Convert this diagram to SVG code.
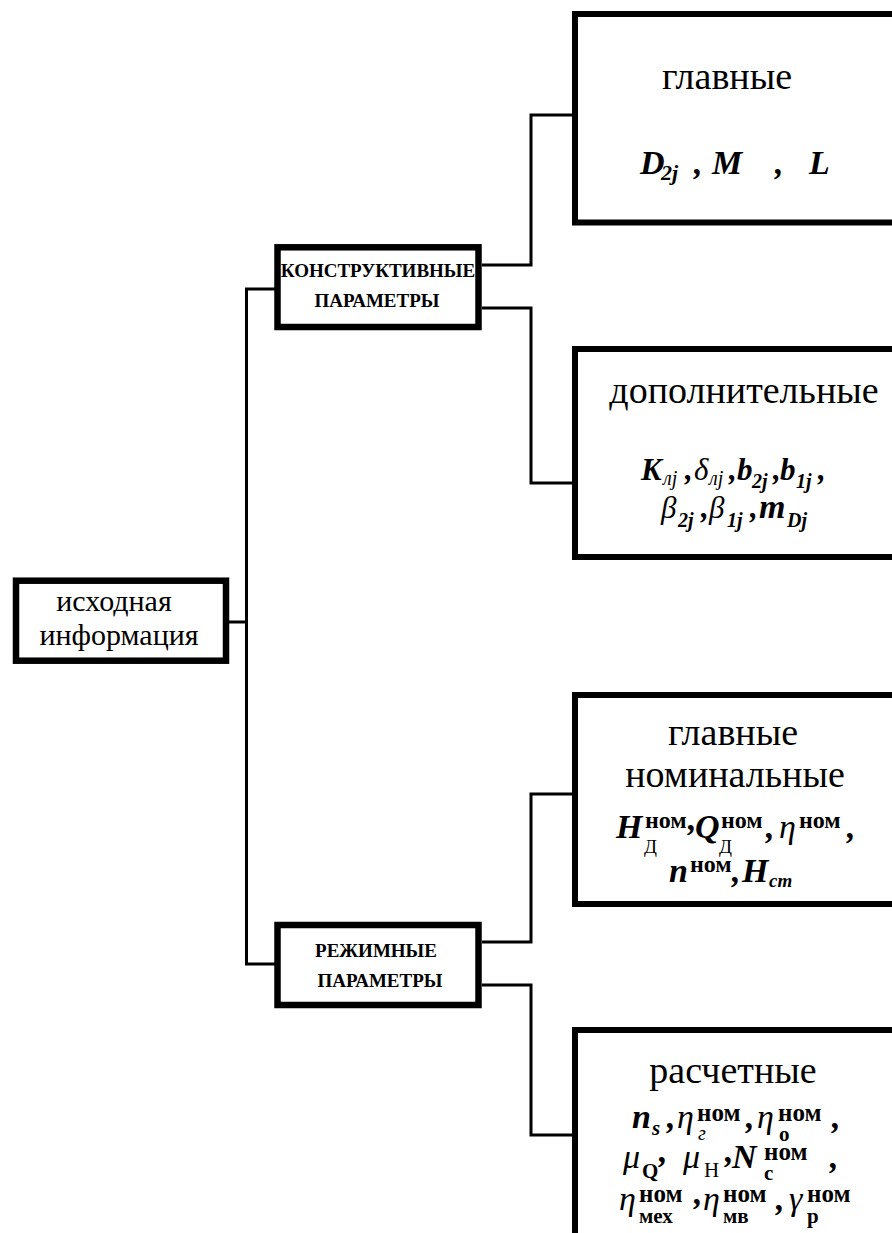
<svg xmlns="http://www.w3.org/2000/svg" width="892" height="1233" viewBox="0 0 892 1233">
<style>
.box{fill:#fff;stroke:#000;stroke-width:6}
.sbox{fill:#fff;stroke:#000;stroke-width:6.5}
.conn{fill:none;stroke:#000;stroke-width:3}
text{font-family:"Liberation Serif","Times New Roman",serif;fill:#000}
.lbl{font-size:38px;text-anchor:middle}
.src{font-size:30px;text-anchor:middle}
.cap{font-size:19px;font-weight:bold;text-anchor:middle}
.bi{font-weight:bold;font-style:italic}
.i{font-style:italic}
.b{font-weight:bold}
</style>
<rect width="892" height="1233" fill="#fff"/>
<g id="connectors">
<path class="conn" d="M229 622 H246.5"/>
<path class="conn" d="M275 289 H246.5 V964 H275"/>
<path class="conn" d="M482 265 H531 V115 H573"/>
<path class="conn" d="M482 308 H531 V483 H573"/>
<path class="conn" d="M482 942 H531 V794 H573"/>
<path class="conn" d="M482 985 H531 V1135 H573"/>
</g>
<g id="node-source">
<rect class="sbox" x="16" y="580.7" width="210" height="80"/>
<text class="src" x="114" y="611">исходная</text>
<text class="src" x="119" y="645">информация</text>
</g>
<g id="node-constructive">
<rect class="sbox" x="277.5" y="247.3" width="201" height="79.7"/>
<text class="cap" x="378" y="277">КОНСТРУКТИВНЫЕ</text>
<text class="cap" x="377" y="307">ПАРАМЕТРЫ</text>
</g>
<g id="node-mode">
<rect class="sbox" x="277.5" y="925" width="201" height="80"/>
<text class="cap" x="376" y="957">РЕЖИМНЫЕ</text>
<text class="cap" x="380" y="987">ПАРАМЕТРЫ</text>
</g>
<g id="node-main">
<rect class="box" x="575" y="14" width="340" height="208.5"/>
<text class="lbl" x="727" y="89">главные</text>
<text font-size="34">
<tspan class="bi" x="640" y="174">D</tspan><tspan class="bi" font-size="22" x="661" y="180">2j</tspan>
<tspan class="bi" x="694" y="174">,</tspan>
<tspan class="bi" x="712" y="174">M</tspan>
<tspan class="bi" x="775" y="174">,</tspan>
<tspan class="bi" x="809" y="174">L</tspan>
</text>
</g>
<g id="node-additional">
<rect class="box" x="575" y="349" width="340" height="208"/>
<text class="lbl" x="744" y="403">дополнительные</text>
<text font-size="31">
<tspan class="bi" x="641" y="480">K</tspan><tspan class="i" font-size="20" x="663" y="485">лj</tspan>
<tspan class="bi" x="685" y="480">,</tspan>
<tspan class="i" x="694" y="480">δ</tspan><tspan class="i" font-size="20" x="709" y="485">лj</tspan>
<tspan class="bi" x="729" y="480">,</tspan>
<tspan class="bi" x="737" y="480">b</tspan><tspan class="bi" font-size="20" x="752" y="488">2j</tspan>
<tspan class="bi" x="773" y="480">,</tspan>
<tspan class="bi" x="780" y="480">b</tspan><tspan class="bi" font-size="20" x="796" y="488">1j</tspan>
<tspan class="bi" x="818" y="480">,</tspan>
<tspan class="i" x="661" y="518">β</tspan><tspan class="bi" font-size="20" x="678" y="527">2j</tspan>
<tspan class="bi" x="701" y="518">,</tspan>
<tspan class="i" x="709" y="518">β</tspan><tspan class="bi" font-size="20" x="727" y="527">1j</tspan>
<tspan class="bi" x="750" y="518">,</tspan>
<tspan class="bi" x="759" y="518" font-size="34">m</tspan><tspan class="bi" font-size="20" x="787" y="527">Dj</tspan>
</text>
</g>
<g id="node-nominal">
<rect class="box" x="575" y="695" width="340" height="209"/>
<text class="lbl" x="733" y="745">главные</text>
<text class="lbl" x="735" y="787">номинальные</text>
<text font-size="34">
<tspan class="bi" x="616" y="838">H</tspan><tspan class="b" font-size="24" x="645" y="828">ном</tspan><tspan font-size="19" x="644" y="853">Д</tspan>
<tspan class="bi" x="688" y="830">,</tspan>
<tspan class="bi" x="695" y="838">Q</tspan><tspan class="b" font-size="24" x="721" y="828">ном</tspan><tspan font-size="19" x="719" y="853">Д</tspan>
<tspan class="bi" x="766" y="838">,</tspan>
<tspan class="i" x="779" y="838">η</tspan><tspan class="b" font-size="24" x="799" y="828">ном</tspan>
<tspan class="bi" x="847" y="838">,</tspan>
<tspan class="bi" x="669" y="882">n</tspan><tspan class="b" font-size="24" x="690" y="872">ном</tspan>
<tspan class="bi" x="732" y="882">,</tspan>
<tspan class="bi" x="742" y="882">H</tspan><tspan class="bi" font-size="19" x="769" y="887">cm</tspan>
</text>
</g>
<g id="node-calc">
<rect class="box" x="575" y="1030" width="340" height="240"/>
<text class="lbl" x="733" y="1083">расчетные</text>
<text font-size="34">
<tspan class="bi" x="632" y="1128">n</tspan><tspan class="bi" font-size="21" x="652" y="1135">s</tspan>
<tspan class="bi" x="667" y="1128">,</tspan>
<tspan class="i" x="677" y="1128">η</tspan><tspan class="b" font-size="25" x="697" y="1121">ном</tspan><tspan class="i" font-size="20" x="698" y="1140">г</tspan>
<tspan class="bi" x="746" y="1128">,</tspan>
<tspan class="i" x="757" y="1128">η</tspan><tspan class="b" font-size="25" x="778" y="1121">ном</tspan><tspan class="b" font-size="21" x="779" y="1141">о</tspan>
<tspan class="bi" x="832" y="1128">,</tspan>
<tspan class="i" x="623" y="1168">μ</tspan><tspan class="b" font-size="21" x="642" y="1178">Q</tspan>
<tspan class="bi" x="659" y="1162">,</tspan>
<tspan class="i" x="683" y="1168">μ</tspan><tspan font-size="21" x="704" y="1177">Н</tspan>
<tspan class="bi" x="725" y="1162">,</tspan>
<tspan class="bi" x="732" y="1168">N</tspan><tspan class="b" font-size="25" x="764" y="1160">ном</tspan><tspan class="b" font-size="21" x="764" y="1180">с</tspan>
<tspan class="bi" x="830" y="1168">,</tspan>
<tspan class="i" x="619" y="1210">η</tspan><tspan class="b" font-size="25" x="639" y="1202">ном</tspan><tspan class="b" font-size="21" x="639" y="1223">мех</tspan>
<tspan class="bi" x="694" y="1204">,</tspan>
<tspan class="i" x="703" y="1210">η</tspan><tspan class="b" font-size="25" x="723" y="1202">ном</tspan><tspan class="b" font-size="21" x="723" y="1223">мв</tspan>
<tspan class="bi" x="776" y="1210">,</tspan>
<tspan class="i" x="789" y="1210">γ</tspan><tspan class="b" font-size="25" x="807" y="1202">ном</tspan><tspan class="b" font-size="21" x="807" y="1223">р</tspan>
</text>
</g>
</svg>
